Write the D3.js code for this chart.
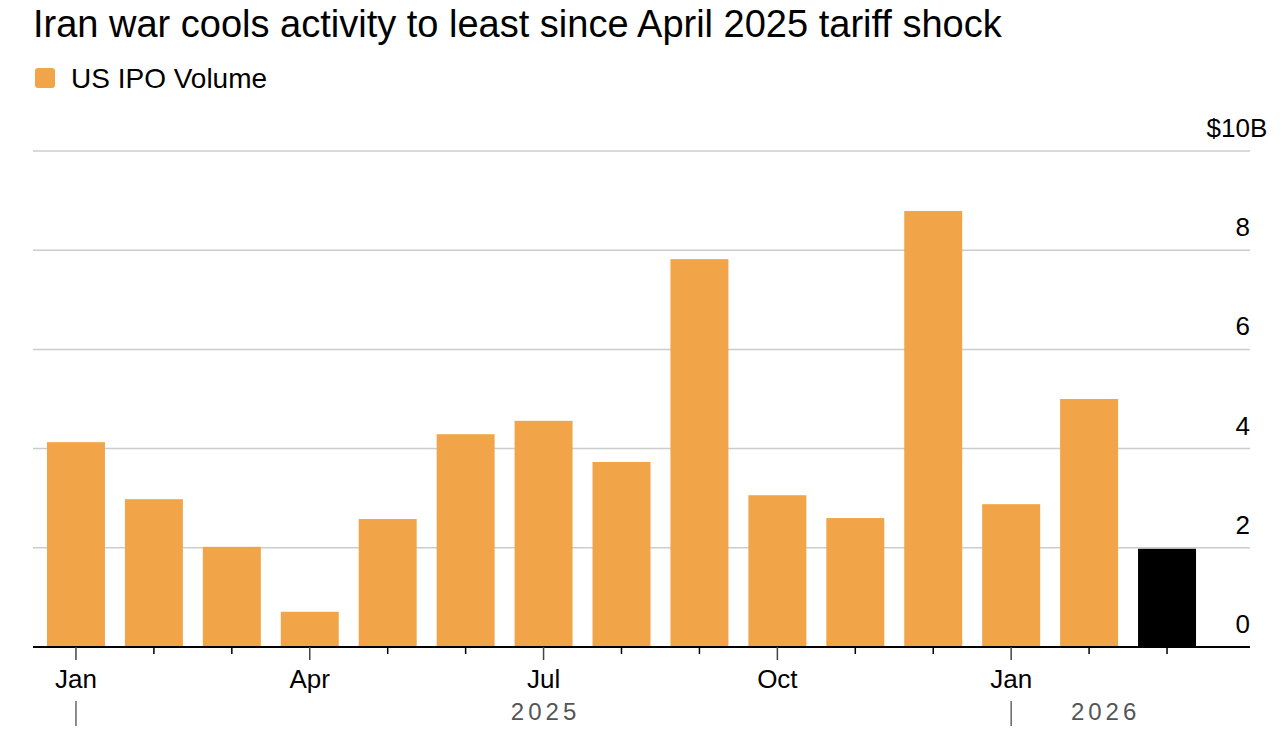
<!DOCTYPE html>
<html>
<head>
<meta charset="utf-8">
<script src="https://cdn.jsdelivr.net/npm/d3@7"></script>
<style>
  body { margin: 0; background: #fff; }
  svg { font-family: "Liberation Sans", Arial, sans-serif; display: block; }
</style>
</head>
<body>
<div id="chart"></div>
<script>
// data
const months = ['2025-01', '2025-02', '2025-03', '2025-04', '2025-05', '2025-06', '2025-07', '2025-08',
                '2025-09', '2025-10', '2025-11', '2025-12', '2026-01', '2026-02', '2026-03'];
const volume = [4.13, 2.98, 2.02, 0.71, 2.58, 4.29, 4.56, 3.73, 7.82, 3.06, 2.60, 8.79, 2.88, 5.0, 1.98];
const monthLabels = { '2025-01': 'Jan', '2025-04': 'Apr', '2025-07': 'Jul', '2025-10': 'Oct', '2026-01': 'Jan' };
const yTicks = [0, 2, 4, 6, 8, 10];
const years = [
  { label: '2025', from: '2025-01' },
  { label: '2026', from: '2026-01' },
];

const width = 1288, height = 746;
const orange = '#f2a548';

const svg = d3.select('#chart').append('svg')
  .attr('width', width)
  .attr('height', height);

const x = d3.scaleBand()
  .domain(months)
  .range([37, 1206])
  .paddingInner(0.256)
  .paddingOuter(0.128);

const y = d3.scaleLinear()
  .domain([0, 10])
  .range([647, 151]);

// title + legend
svg.append('text')
  .attr('x', 33).attr('y', 37)
  .attr('font-size', 38)
  .attr('fill', '#000')
  .text('Iran war cools activity to least since April 2025 tariff shock');

svg.append('rect')
  .attr('x', 35).attr('y', 68)
  .attr('width', 20).attr('height', 20)
  .attr('rx', 3)
  .attr('fill', orange);
svg.append('text')
  .attr('x', 71).attr('y', 88)
  .attr('font-size', 28)
  .text('US IPO Volume');

// grid
svg.append('g')
  .selectAll('line')
  .data(yTicks.filter(d => d > 0))
  .join('line')
  .attr('x1', 33).attr('x2', 1250)
  .attr('y1', d => y(d)).attr('y2', d => y(d))
  .attr('stroke', '#cccccc')
  .attr('stroke-width', 1.5);

// y labels, numbers end at the grid end, the "B" hangs past it
const yLab = svg.append('g');
yLab.selectAll('text')
  .data(yTicks)
  .join('text')
  .attr('x', 1250)
  .attr('y', d => y(d) - 14)
  .attr('text-anchor', 'end')
  .attr('font-size', 26)
  .text(d => d === 10 ? '$10' : d);
yLab.append('text')
  .attr('x', 1250)
  .attr('y', y(10) - 14)
  .attr('font-size', 26)
  .text('B');

// bars
svg.append('g')
  .selectAll('rect')
  .data(months)
  .join('rect')
  .attr('x', d => x(d))
  .attr('y', (d, i) => y(volume[i]))
  .attr('width', x.bandwidth())
  .attr('height', (d, i) => y(0) - y(volume[i]))
  .attr('fill', (d, i) => i === months.length - 1 ? '#000' : orange);

// x axis
const cx = d => x(d) + x.bandwidth() / 2;

svg.append('line')
  .attr('x1', 33).attr('x2', 1250)
  .attr('y1', y(0)).attr('y2', y(0))
  .attr('stroke', '#000')
  .attr('stroke-width', 2);

svg.append('g')
  .selectAll('line')
  .data(months)
  .join('line')
  .attr('x1', cx).attr('x2', cx)
  .attr('y1', y(0))
  .attr('y2', d => y(0) + (monthLabels[d] ? 13 : 7))
  .attr('stroke', d => monthLabels[d] ? '#444' : '#000')
  .attr('stroke-width', 1.5);

svg.append('g')
  .selectAll('text')
  .data(months.filter(d => monthLabels[d]))
  .join('text')
  .attr('x', cx)
  .attr('y', 688)
  .attr('text-anchor', 'middle')
  .attr('font-size', 26)
  .text(d => monthLabels[d]);

// year row: label centred between its separator and the next one (or the last bar's edge)
const lastEdge = x(months[months.length - 1]) + x.bandwidth();
const yearG = svg.append('g');
yearG.selectAll('line')
  .data(years)
  .join('line')
  .attr('x1', d => cx(d.from)).attr('x2', d => cx(d.from))
  .attr('y1', 701).attr('y2', 726)
  .attr('stroke', '#666')
  .attr('stroke-width', 1.5);
yearG.selectAll('text')
  .data(years)
  .join('text')
  .attr('x', (d, i) => (cx(d.from) + (i < years.length - 1 ? cx(years[i + 1].from) : lastEdge)) / 2 + 2)
  .attr('y', 720)
  .attr('text-anchor', 'middle')
  .attr('font-size', 24)
  .attr('letter-spacing', 4)
  .attr('fill', '#555')
  .text(d => d.label);
</script>
</body>
</html>
